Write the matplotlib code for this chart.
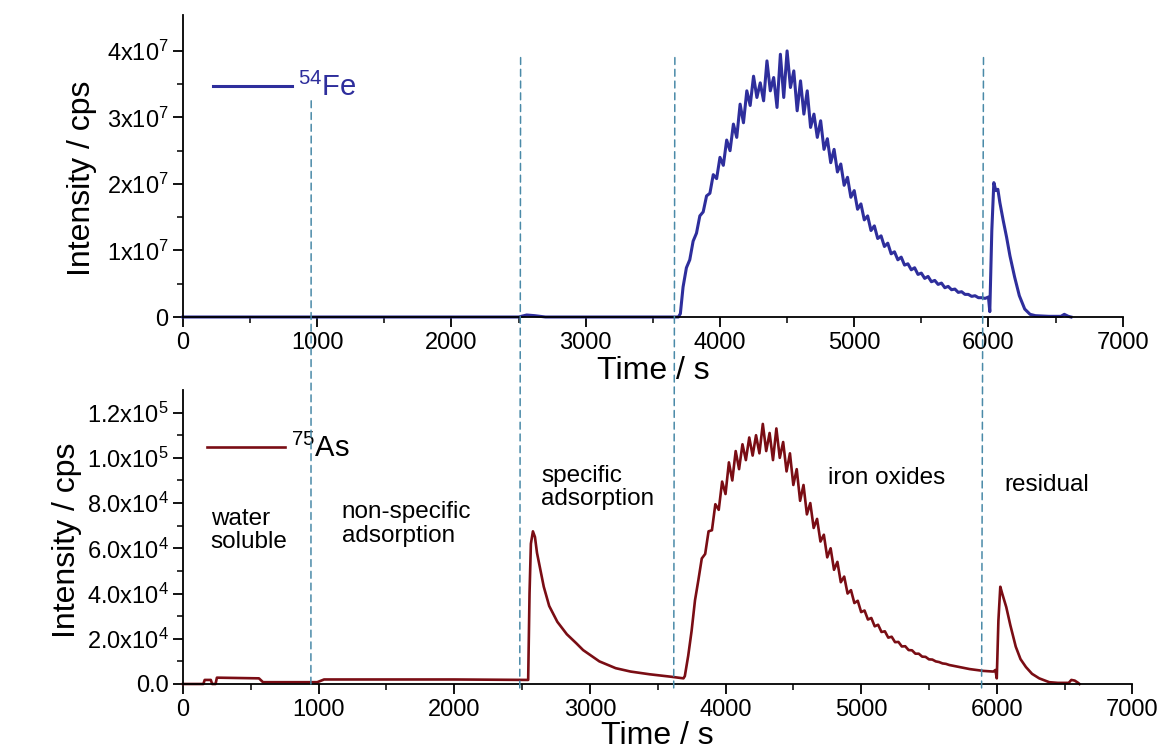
import matplotlib
matplotlib.use("Agg")
import matplotlib.pyplot as plt
from matplotlib.patches import ConnectionPatch

plt.rcParams['font.family'] = ['Liberation Sans', 'DejaVu Sans']
plt.rcParams['mathtext.fontset'] = 'custom'
plt.rcParams['mathtext.rm'] = 'Liberation Sans'
plt.rcParams['mathtext.it'] = 'Liberation Sans:italic'
plt.rcParams['mathtext.default'] = 'regular'

# ---- 54Fe trace (time in s, intensity in 1e7 cps) ----
fe_time = [0, 2500, 2560, 2620, 2700, 3690, 3705,
           3725, 3750, 3775, 3800, 3825, 3850, 3875, 3900, 3925, 3950, 3975,
           4000, 4025, 4050, 4075, 4100, 4125, 4150, 4175, 4200, 4225, 4250,
           4275, 4300, 4325, 4350, 4375, 4400, 4425, 4450, 4475, 4500, 4525,
           4550, 4575, 4600, 4625, 4650, 4675, 4700, 4725, 4750, 4775, 4800,
           4825, 4850, 4875, 4900, 4925, 4950, 4975, 5000, 5025, 5050, 5075,
           5100, 5125, 5150, 5175, 5200, 5225, 5250, 5275, 5300, 5325, 5350,
           5375, 5400, 5425, 5450, 5475, 5500, 5525, 5550, 5575, 5600, 5625,
           5650, 5675, 5700, 5725, 5750, 5775, 5800, 5825, 5850, 5875, 5900,
           5925, 5950, 5975, 6000, 6010, 6025, 6040, 6055, 6070, 6085, 6110,
           6135, 6160, 6195, 6230, 6270, 6310, 6350, 6450, 6540, 6565, 6595, 6615]
fe_int = [0, 0, 0.03, 0.02, 0, 0, 0.05,
          0.45, 0.74, 0.86, 1.14, 1.26, 1.52, 1.58, 1.82, 1.86, 2.14, 2.08,
          2.40, 2.28, 2.66, 2.50, 2.90, 2.70, 3.20, 2.92, 3.40, 3.18, 3.62,
          3.30, 3.52, 3.25, 3.85, 3.40, 3.60, 3.15, 3.95, 3.30, 4.00, 3.45,
          3.70, 3.10, 3.55, 3.05, 3.40, 2.85, 3.05, 2.70, 2.95, 2.52, 2.68,
          2.32, 2.52, 2.18, 2.30, 1.98, 2.10, 1.80, 1.90, 1.62, 1.70, 1.46,
          1.52, 1.30, 1.37, 1.18, 1.22, 1.06, 1.11, 0.95, 0.98, 0.86, 0.90,
          0.78, 0.80, 0.71, 0.74, 0.64, 0.66, 0.58, 0.61, 0.53, 0.55, 0.49,
          0.51, 0.44, 0.46, 0.41, 0.42, 0.37, 0.38, 0.34, 0.34, 0.31, 0.32,
          0.29, 0.29, 0.28, 0.30, 0.08, 1.30, 2.02, 1.90, 1.92, 1.72, 1.45,
          1.20, 0.92, 0.60, 0.32, 0.12, 0.04, 0.02, 0.01, 0.01, 0.04, 0.01, 0.0]

# ---- 75As trace (time in s, intensity in 1e4 cps) ----
as_time = [0, 150, 160, 205, 215, 240, 250, 560, 590, 990, 1040, 2000, 2500,
           2545, 2555, 2565, 2580, 2595, 2610, 2630, 2660, 2700, 2760, 2830,
           2900, 2950, 3070, 3190, 3300, 3440, 3600, 3690,
           3700, 3725, 3750, 3775, 3800, 3825, 3850, 3875, 3900, 3925, 3950,
           3975, 4000, 4025, 4050, 4075, 4100, 4125, 4150, 4175, 4200, 4225,
           4250, 4275, 4300, 4325, 4350, 4375, 4400, 4425, 4450, 4475, 4500,
           4525, 4550, 4575, 4600, 4625, 4650, 4675, 4700, 4725, 4750, 4775,
           4800, 4825, 4850, 4875, 4900, 4925, 4950, 4975, 5000, 5025, 5050,
           5075, 5100, 5125, 5150, 5175, 5200, 5225, 5250, 5275, 5300, 5325,
           5350, 5375, 5400, 5425, 5450, 5475, 5500, 5525, 5550, 5575, 5600,
           5625, 5650, 5675, 5700, 5725, 5750, 5775, 5800, 5825, 5850, 5875,
           5900, 5925, 5950, 5975, 5990, 6000, 6012, 6026, 6040, 6055, 6070,
           6100, 6140, 6175, 6215, 6260, 6313, 6387, 6450, 6530, 6550, 6575,
           6600, 6610]
as_int = [0, 0, 0.18, 0.18, 0.0, 0.0, 0.28, 0.25, 0.08, 0.08, 0.20, 0.20, 0.18,
          0.18, 4.0, 6.2, 6.75, 6.5, 5.8, 5.2, 4.3, 3.45, 2.75, 2.2,
          1.8, 1.5, 1.0, 0.7, 0.55, 0.43, 0.32, 0.25,
          0.35, 1.25, 2.35, 3.70, 4.60, 5.55, 5.75, 6.75, 6.80, 7.95, 7.70,
          8.95, 8.40, 9.80, 9.00, 10.30, 9.50, 10.60, 9.90, 10.90, 10.10, 11.00,
          10.20, 11.50, 10.30, 11.10, 9.90, 11.30, 10.00, 10.70, 9.40, 10.20, 8.80,
          9.50, 8.10, 8.80, 7.50, 8.00, 6.90, 7.30, 6.30, 6.60, 5.60, 6.00,
          5.05, 5.40, 4.50, 4.75, 4.00, 4.15, 3.58, 3.68, 3.18, 3.25, 2.85,
          2.92, 2.55, 2.62, 2.30, 2.33, 2.05, 2.09, 1.85, 1.86, 1.66, 1.67,
          1.50, 1.49, 1.34, 1.34, 1.21, 1.20, 1.09, 1.08, 1.00, 0.97, 0.91,
          0.89, 0.84, 0.81, 0.78, 0.75, 0.72, 0.69, 0.66, 0.64, 0.62, 0.60,
          0.58, 0.57, 0.56, 0.55, 0.62, 0.25, 2.80, 4.30, 4.00, 3.70, 3.40,
          2.60, 1.65, 1.10, 0.75, 0.45, 0.25, 0.08, 0.05, 0.05, 0.18, 0.15,
          0.05, 0.0]

# extraction step boundaries (s)
bounds_top = [955, 2515, 3664, 5963]
bounds_bottom = [943, 2483, 3618, 5888]

fe_ticks = [0, 1e7, 2e7, 3e7, 4e7]
fe_ticklabels = ['0', '1x10$^7$', '2x10$^7$', '3x10$^7$', '4x10$^7$']
as_ticks = [0, 2e4, 4e4, 6e4, 8e4, 1e5, 1.2e5]
as_ticklabels = ['0.0', '2.0x10$^4$', '4.0x10$^4$', '6.0x10$^4$',
                 '8.0x10$^4$', '1.0x10$^5$', '1.2x10$^5$']

step_labels = ['water\nsoluble', 'non-specific\nadsorption',
               'specific\nadsorption', 'iron oxides', 'residual']
step_label_x = [204, 1171, 2642, 4755, 6055]
step_label_y = [7.8e4, 8.1e4, 9.7e4, 9.6e4, 9.3e4]

fe_color = '#2e2e9c'
as_color = '#7a0d14'
dash_color = '#4a8aa8'

fig = plt.figure(figsize=(11.6, 7.49), dpi=100)
ax1 = fig.add_axes([183 / 1160, 1 - 317 / 749, 939.7 / 1160, 302 / 749])
ax2 = fig.add_axes([183 / 1160, 1 - 684 / 749, 949.4 / 1160, 294 / 749])

ax1.plot(fe_time, [v * 1e7 for v in fe_int], color=fe_color, lw=2.2,
         clip_on=False, label='$^{54}$Fe')
ax2.plot(as_time, [v * 1e4 for v in as_int], color=as_color, lw=1.9,
         clip_on=False, label='$^{75}$As')

ax1.set_ylim(0, 4.54e7)
ax2.set_ylim(0, 1.30e5)
ax1.set_yticks(fe_ticks)
ax1.set_yticklabels(fe_ticklabels)
ax2.set_yticks(as_ticks)
ax2.set_yticklabels(as_ticklabels)
ax1.set_yticks([5e6, 1.5e7, 2.5e7, 3.5e7], minor=True)
ax2.set_yticks([1e4, 3e4, 5e4, 7e4, 9e4, 1.1e5], minor=True)

for ax in (ax1, ax2):
    ax.set_xlim(0, 7000)
    ax.set_xticks(range(0, 7001, 1000))
    ax.set_xticks(range(500, 7000, 1000), minor=True)
    for s in ('top', 'right'):
        ax.spines[s].set_visible(False)
    for s in ('left', 'bottom'):
        ax.spines[s].set_linewidth(1.3)
    ax.tick_params(which='major', length=7, width=1.3, labelsize=17, direction='out')
    ax.tick_params(which='minor', length=4, width=1.1, direction='out')
    ax.set_ylabel('Intensity / cps', fontsize=23)

ax1.set_xlabel('Time / s', fontsize=23, labelpad=2)
ax2.set_xlabel('Time / s', fontsize=23, labelpad=0)
ax1.yaxis.set_label_coords(-0.0915, 0.46)
ax2.yaxis.set_label_coords(-0.1067, 0.49)

leg1 = ax1.legend(loc='center left', bbox_to_anchor=(0.032, 0.76), frameon=False,
                  fontsize=21, handlelength=2.7, handletextpad=0.2,
                  borderpad=0, borderaxespad=0)
for t in leg1.get_texts():
    t.set_color(fe_color)
ax2.legend(loc='center left', bbox_to_anchor=(0.025, 0.80), frameon=False,
           fontsize=21, handlelength=2.7, handletextpad=0.2,
           borderpad=0, borderaxespad=0)

for lab, x, y in zip(step_labels, step_label_x, step_label_y):
    ax2.text(x, y, lab, fontsize=17.5, ha='left', va='top', linespacing=1.1)

# dashed step boundaries running through both panels
for i, (xt, xb) in enumerate(zip(bounds_top, bounds_bottom)):
    y_start = 3.25e7 if i == 0 else 3.9e7
    y_end = 0 if i == 0 else -0.35e4
    con = ConnectionPatch(xyA=(xt, y_start), coordsA=ax1.transData,
                          xyB=(xb, y_end), coordsB=ax2.transData,
                          color=dash_color, lw=1.1, linestyle=(0, (4.5, 3.2)))
    fig.add_artist(con)

fig.savefig('out.png', dpi=100)
